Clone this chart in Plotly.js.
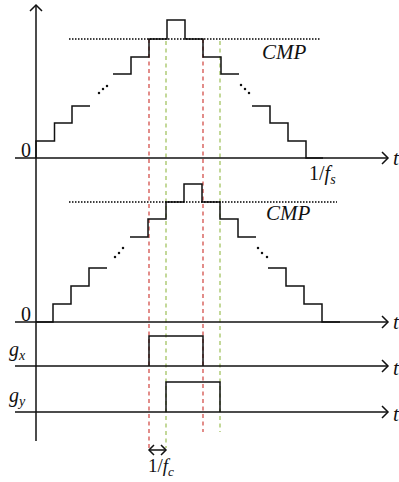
<!DOCTYPE html>
<html>
<head>
<meta charset="utf-8">
<script src="https://cdn.plot.ly/plotly-3.0.1.min.js"></script>
<style>html,body{margin:0;padding:0;background:#fff;}#chart{width:399px;height:482px;}</style>
</head>
<body>
<div id="chart"></div>
<script>
// ---- data (time offset from the vertical axis, level above each panel's baseline) ----
const topStairA_t = [0, 0, 18.5, 36, 54];
const topStairA_v = [0, 17, 35, 52, 52];
const topStairB_t = [77, 95, 113, 131, 149, 167, 185, 203];
const topStairB_v = [84, 101, 119, 138, 119, 101, 84, 84];
const topStairC_t = [216, 234, 252, 270, 287];
const topStairC_v = [52, 35, 17, 0, 0];

const botStairA_t = [0, 17, 35, 53, 71];
const botStairA_v = [0, 18, 36, 54, 54];
const botStairB_t = [94, 112, 130, 148, 166, 184, 202, 220];
const botStairB_v = [85, 103, 120, 138, 120, 103, 85, 85];
const botStairC_t = [232, 250, 268, 286, 304];
const botStairC_v = [54, 36, 18, 0, 0];

const topCMP = 119, topCMP_t = [33, 284];
const botCMP = 120, botCMP_t = [33, 301];

const gx_t = [113, 113, 167, 167];
const gx_v = [0, 30, 30, 0];
const gy_t = [130, 130, 184, 184];
const gy_v = [0, 30, 30, 0];

const dotsTL_t = [63, 67, 71], dotsTL_v = [65, 69, 72];
const dotsTR_t = [205, 209, 213], dotsTR_v = [73, 69, 65];
const dotsBL_t = [79, 83, 87], dotsBL_v = [65, 69, 74];
const dotsBR_t = [222, 226, 231], dotsBR_v = [74, 69, 65];

const redTimes = [113, 167];
const greenTimes = [130, 184];

// ---- layout geometry ----
const base = {top: 158, bot: 322, gx: 366, gy: 412};
const X0 = 36; // pixel column of vertical axis
const toY = (b, arr) => arr.map(v => b - v);

const BLACK = '#111111';
const traces = [];

// cursor dashed lines (drawn first, under the stairs)
const cursorTop = 39;
const cursorBottomLeft = 448, cursorBottomRight = 432;
redTimes.forEach((t, i) => {
  traces.push({x: [t, t], y: [cursorTop, i === 0 ? cursorBottomLeft : cursorBottomRight], mode: 'lines', line: {color: '#d0423c', width: 1.2, dash: '4px,3.5px'}});
});
greenTimes.forEach((t, i) => {
  traces.push({x: [t, t], y: [cursorTop + 2, i === 0 ? cursorBottomLeft : cursorBottomRight], mode: 'lines', line: {color: '#9cbf55', width: 1.2, dash: '4px,3.5px'}});
});

function stair(t, v, b) {
  traces.push({x: t, y: toY(b, v), mode: 'lines', line: {shape: 'hv', color: BLACK, width: 1.5}});
}
stair(topStairA_t, topStairA_v, base.top);
stair(topStairB_t, topStairB_v, base.top);
stair(topStairC_t, topStairC_v, base.top);
stair(botStairA_t, botStairA_v, base.bot);
stair(botStairB_t, botStairB_v, base.bot);
stair(botStairC_t, botStairC_v, base.bot);
traces.push({x: gx_t, y: toY(base.gx, gx_v), mode: 'lines', line: {color: BLACK, width: 1.5}});
traces.push({x: gy_t, y: toY(base.gy, gy_v), mode: 'lines', line: {color: BLACK, width: 1.5}});

// CMP dotted lines
traces.push({x: topCMP_t, y: [base.top - topCMP, base.top - topCMP], mode: 'lines', line: {color: '#000', width: 1.5, dash: '1.5px,1.5px'}});
traces.push({x: botCMP_t, y: [base.bot - botCMP, base.bot - botCMP], mode: 'lines', line: {color: '#000', width: 1.5, dash: '1.5px,1.5px'}});

// ellipsis dots
[[dotsTL_t, dotsTL_v, base.top], [dotsTR_t, dotsTR_v, base.top], [dotsBL_t, dotsBL_v, base.bot], [dotsBR_t, dotsBR_v, base.bot]].forEach(d => {
  traces.push({x: d[0], y: toY(d[2], d[1]), mode: 'markers', marker: {color: BLACK, size: 2.5}});
});

// ---- shapes: axes + arrows ----
const shapes = [];
const L = {color: BLACK, width: 1.5};
shapes.push({type: 'line', xref: 'x', yref: 'y', x0: 0, x1: 0, y0: 5, y1: 441, line: L});
shapes.push({type: 'path', xref: 'x', yref: 'y', path: 'M -6 11 L 0 5 L 6 11', line: L});
[base.top, base.bot, base.gx, base.gy].forEach(b => {
  shapes.push({type: 'line', xref: 'x', yref: 'y', x0: -21, x1: 352, y0: b, y1: b, line: L});
  shapes.push({type: 'path', xref: 'x', yref: 'y', path: `M 346 ${b - 6} L 352 ${b} L 346 ${b + 6}`, line: L});
});
// 1/fc double arrow
const ay = 450;
shapes.push({type: 'line', xref: 'x', yref: 'y', x0: redTimes[0], x1: greenTimes[0], y0: ay, y1: ay, line: L});
shapes.push({type: 'path', xref: 'x', yref: 'y', path: `M ${redTimes[0] + 5} ${ay - 5} L ${redTimes[0]} ${ay} L ${redTimes[0] + 5} ${ay + 5}`, line: L});
shapes.push({type: 'path', xref: 'x', yref: 'y', path: `M ${greenTimes[0] - 5} ${ay - 5} L ${greenTimes[0]} ${ay} L ${greenTimes[0] - 5} ${ay + 5}`, line: L});

// ---- text ----
const F = {family: '"Liberation Serif", "Times New Roman", Times, serif', size: 20, color: '#111'};
function ann(x, y, text, size) {
  return {x: x - X0, y: y, xref: 'x', yref: 'y', text: text, showarrow: false, xanchor: 'center', yanchor: 'middle', font: Object.assign({}, F, size ? {size: size} : {})};
}
const annotations = [
  ann(25.5, 150, '0', 20),
  ann(25.5, 314, '0', 20),
  ann(284.5, 52, '<i>CMP</i>', 21),
  ann(288, 213, '<i>CMP</i>', 21),
  ann(322, 174, '1/<i>f</i><sub><i>s</i></sub>', 20),
  ann(161, 467, '1/<i>f</i><sub><i>c</i></sub>', 19),
  ann(17, 350, '<i>g</i><sub><i>x</i></sub>', 20),
  ann(17, 396, '<i>g</i><sub><i>y</i></sub>', 20),
  ann(396, 158, '<i>t</i>', 21),
  ann(396, 322, '<i>t</i>', 21),
  ann(396, 368, '<i>t</i>', 21),
  ann(396, 414, '<i>t</i>', 21)
];

const layout = {
  width: 399, height: 482,
  margin: {l: 0, r: 0, t: 0, b: 0},
  paper_bgcolor: '#fff', plot_bgcolor: '#fff',
  showlegend: false,
  font: {family: '"Liberation Serif", serif'},
  xaxis: {range: [-X0, 399 - X0], visible: false, fixedrange: true},
  yaxis: {range: [482, 0], visible: false, fixedrange: true},
  shapes: shapes,
  annotations: annotations
};
Plotly.newPlot('chart', traces, layout, {staticPlot: true, displayModeBar: false});
</script>
</body>
</html>
